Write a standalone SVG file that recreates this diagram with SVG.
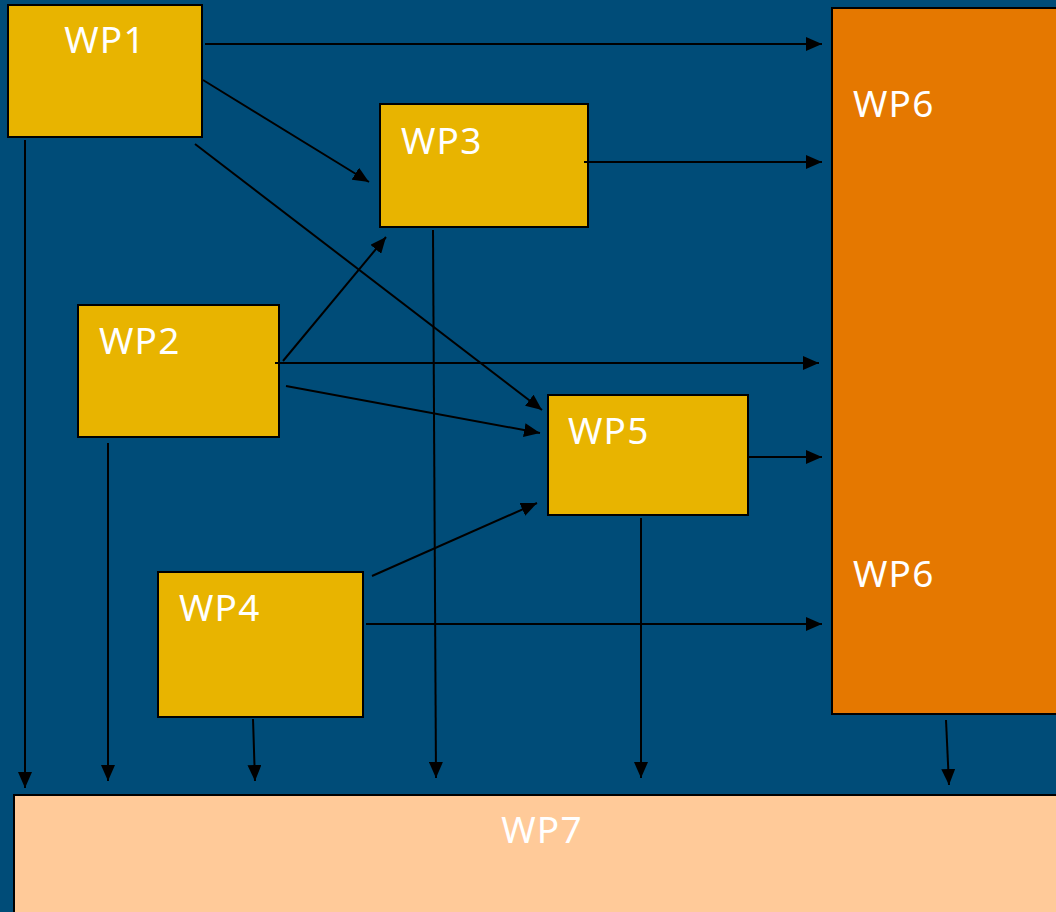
<svg xmlns="http://www.w3.org/2000/svg" width="1056" height="912" viewBox="0 0 1056 912">
<defs>
<marker id="ah" markerUnits="userSpaceOnUse" markerWidth="16" markerHeight="14" refX="16" refY="7" orient="auto">
<path d="M0,0 L16,7 L0,14 Z" fill="#000"/>
</marker>
<style>
.wp{fill:#E8B400;stroke:#000;stroke-width:2}
.lbl{font-family:"Noto Sans","Open Sans",sans-serif;font-size:37px;letter-spacing:1.2px;fill:#fff}
.c{stroke:#000;stroke-width:2;fill:none;marker-end:url(#ah)}
</style>
</defs>
<rect x="0" y="0" width="1056" height="912" fill="#004C78"/>
<g id="WP6"><rect x="832" y="8" width="230" height="706" fill="#E57800" stroke="#000" stroke-width="2"/><text class="lbl" x="853" y="117">WP6</text><text class="lbl" x="853" y="587">WP6</text></g>
<g id="WP7"><rect x="14" y="795" width="1050" height="125" fill="#FFCA99" stroke="#000" stroke-width="2"/><text class="lbl" x="542" y="843" text-anchor="middle">WP7</text></g>
<g id="WP1"><rect class="wp" x="8" y="5" width="194" height="132"/><text class="lbl" x="105" y="53" text-anchor="middle">WP1</text></g>
<g id="WP3"><rect class="wp" x="380" y="104" width="208" height="123"/><text class="lbl" x="401" y="154">WP3</text></g>
<g id="WP2"><rect class="wp" x="78" y="305" width="201" height="132"/><text class="lbl" x="99" y="354">WP2</text></g>
<g id="WP5"><rect class="wp" x="548" y="395" width="200" height="120"/><text class="lbl" x="568" y="444">WP5</text></g>
<g id="WP4"><rect class="wp" x="158" y="572" width="205" height="145"/><text class="lbl" x="179" y="621">WP4</text></g>
<g id="connectors">
<line class="c" x1="205" y1="44" x2="822" y2="44"/>
<line class="c" x1="203" y1="80" x2="369" y2="182"/>
<line class="c" x1="195" y1="144" x2="542" y2="410"/>
<line class="c" x1="25" y1="140" x2="25" y2="788"/>
<line class="c" x1="584" y1="162" x2="822" y2="162"/>
<line class="c" x1="433" y1="230" x2="436" y2="778"/>
<line class="c" x1="283" y1="361" x2="386" y2="237"/>
<line class="c" x1="275" y1="363" x2="819" y2="363"/>
<line class="c" x1="286" y1="386" x2="540" y2="433"/>
<line class="c" x1="108" y1="443" x2="108" y2="781"/>
<line class="c" x1="749" y1="457" x2="822" y2="457"/>
<line class="c" x1="641" y1="518" x2="641" y2="778"/>
<line class="c" x1="372" y1="576" x2="537" y2="503"/>
<line class="c" x1="366" y1="624" x2="822" y2="624"/>
<line class="c" x1="253" y1="719" x2="255" y2="781"/>
<line class="c" x1="946" y1="720" x2="949" y2="785"/>
</g>
</svg>
